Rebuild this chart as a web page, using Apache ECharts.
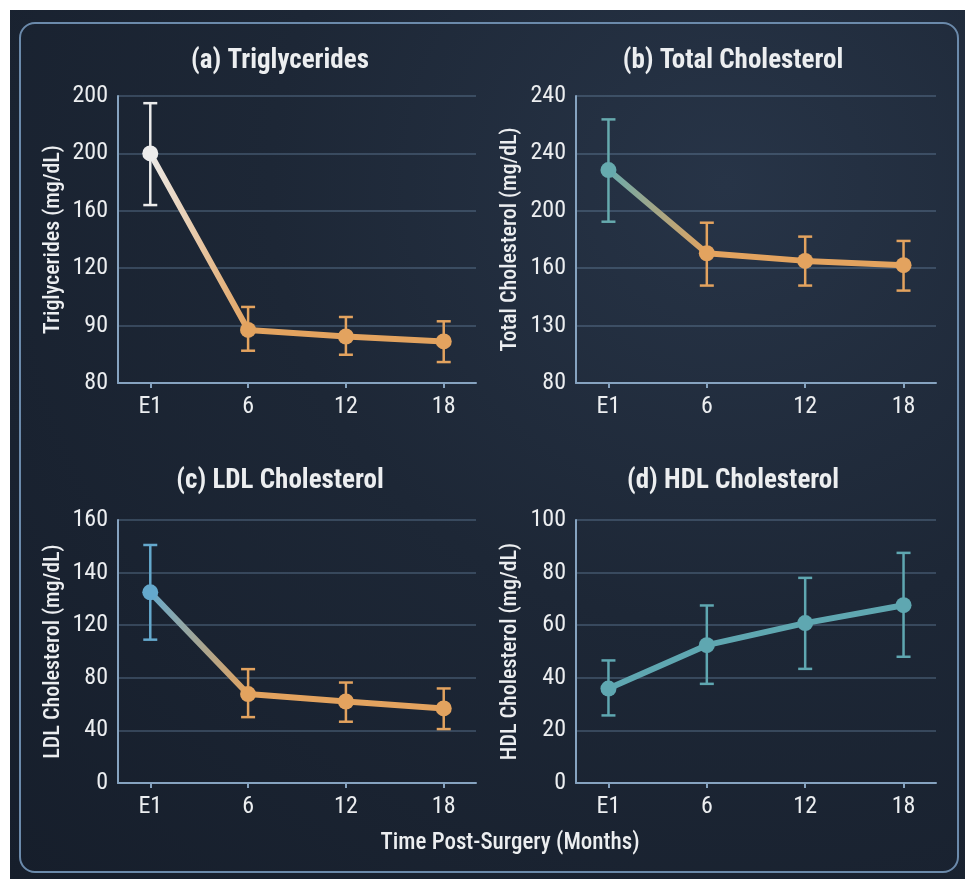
<!DOCTYPE html>
<html>
<head>
<meta charset="utf-8">
<script src="https://cdn.jsdelivr.net/npm/echarts@6/dist/echarts.min.js"></script>
<style>
html,body{margin:0;padding:0;background:#ffffff;}
#bg{position:absolute;left:10px;top:10px;width:955px;height:869px;
 background:radial-gradient(ellipse at 75% 20%, #273447 0%, #1d2736 45%, #161e2b 100%);}
#frame{position:absolute;left:19px;top:22px;width:940px;height:851px;border:2px solid #6b8aab;border-radius:16px;box-sizing:border-box;}
#chart{position:absolute;left:0;top:0;width:965px;height:879px;}
</style>
</head>
<body>
<div id="bg"></div>
<div id="frame"></div>
<div id="chart"></div>
<script>
// ---- data ----
const categories = ['E1', '6', '12', '18'];
const xIndex = [0, 1, 2, 3];

// (a) Triglycerides
const trigMean = [200, 77, 72.4, 69];
const trigLow  = [164, 62.5, 59.7, 54.6];
const trigHigh = [235, 93, 86, 83];
const trigTicks = ['80', '90', '120', '160', '200', '200'];

// (b) Total Cholesterol
const tcMean = [228.4, 170.4, 165.1, 162.1];
const tcLow  = [192.4, 147.9, 147.9, 144.4];
const tcHigh = [263.7, 191.7, 182, 179];
const tcTicks = ['80', '130', '160', '200', '240', '240'];

// (c) LDL Cholesterol
const ldlMean = [145, 67.6, 62, 56.7];
const ldlLow  = [109, 50.1, 46.6, 41];
const ldlHigh = [181, 86.6, 76.4, 71.9];
const ldlTicks = ['0', '40', '80', '120', '140', '160'];

// (d) HDL Cholesterol
const hdlMean = [35.9, 52.4, 60.8, 67.6];
const hdlLow  = [25.7, 37.7, 43.4, 48];
const hdlHigh = [46.6, 67.5, 78, 87.5];
const hdlTicks = ['0', '20', '40', '60', '80', '100'];

const titles = ['(a) Triglycerides', '(b) Total Cholesterol', '(c) LDL Cholesterol', '(d) HDL Cholesterol'];
const yNames = ['Triglycerides (mg/dL)', 'Total Cholesterol (mg/dL)', 'LDL Cholesterol (mg/dL)', 'HDL Cholesterol (mg/dL)'];
const xName = 'Time Post-Surgery (Months)';

// ---- style ----
const FONT = "'Roboto Condensed', 'Roboto', sans-serif";
const TXT = '#eceef0';
const ORANGE = '#e3a35f';
const AXIS = '#86a3c0';
const panels = [
  {mean: trigMean, low: trigLow, high: trigHigh, ticks: trigTicks, min: 40, max: 240, step: 40,
   grid: {left: 118, top: 96, width: 358, height: 287}, start: '#ececec', rest: ORANGE, titleX: 280, titleY: 61, nameGap: 54},
  {mean: tcMean, low: tcLow, high: tcHigh, ticks: tcTicks, min: 80, max: 280, step: 40,
   grid: {left: 576, top: 96, width: 360, height: 287}, start: '#66aaae', rest: ORANGE, titleX: 733, titleY: 61, nameGap: 55},
  {mean: ldlMean, low: ldlLow, high: ldlHigh, ticks: ldlTicks, min: 0, max: 200, step: 40,
   grid: {left: 118, top: 520, width: 358, height: 263}, start: '#65a9cd', rest: ORANGE, titleX: 280, titleY: 481, nameGap: 54},
  {mean: hdlMean, low: hdlLow, high: hdlHigh, ticks: hdlTicks, min: 0, max: 100, step: 20,
   grid: {left: 576, top: 520, width: 360, height: 263}, start: '#5fa7b1', rest: '#5fa7b1', titleX: 733, titleY: 481, nameGap: 55}
];

const grids = [], xAxes = [], yAxes = [], series = [], graphics = [];

panels.forEach((p, k) => {
  grids.push(Object.assign({containLabel: false}, p.grid));
  xAxes.push({
    type: 'value', gridIndex: k, min: -0.33, max: 3.33,
    splitLine: {show: false},
    axisLine: {show: true, onZero: false, lineStyle: {color: AXIS, width: 2}},
    axisTick: {show: true, customValues: xIndex, length: 5, lineStyle: {color: AXIS, width: 2}},
    axisLabel: {show: true, customValues: xIndex, formatter: v => categories[Math.round(v)],
      color: TXT, fontFamily: FONT, fontSize: 24, margin: 12}
  });
  yAxes.push({
    type: 'value', gridIndex: k, min: p.min, max: p.max, interval: p.step,
    name: yNames[k], nameLocation: 'middle', nameGap: p.nameGap, nameRotate: 90,
    nameTextStyle: {color: TXT, fontFamily: FONT, fontSize: 22, fontWeight: 500},
    axisLine: {show: true, onZero: false, lineStyle: {color: AXIS, width: 2}},
    axisTick: {show: false},
    axisLabel: {color: TXT, fontFamily: FONT, fontSize: 24, margin: 10,
      formatter: v => p.ticks[Math.round((v - p.min) / p.step)]},
    splitLine: {show: true, lineStyle: {color: 'rgba(120,150,180,0.42)', width: 1.5}}
  });
  graphics.push({type: 'text', x: p.titleX, y: p.titleY,
    style: {text: titles[k], fill: TXT, font: "bold 27px 'Roboto Condensed', 'Roboto', sans-serif",
      align: 'center', verticalAlign: 'middle', textAlign: 'center', textVerticalAlign: 'middle'}});

  const colors = xIndex.map(i => i === 0 ? p.start : p.rest);
  // error bars
  series.push({
    type: 'custom', xAxisIndex: k, yAxisIndex: k, z: 3,
    data: xIndex.map(i => [i, p.low[i], p.high[i]]),
    renderItem: (params, api) => {
      const i = api.value(0);
      const lo = api.coord([i, api.value(1)]);
      const hi = api.coord([i, api.value(2)]);
      const c = colors[params.dataIndex];
      const w = 7;
      const st = {stroke: c, lineWidth: 2.5};
      return {type: 'group', children: [
        {type: 'line', shape: {x1: hi[0], y1: hi[1], x2: lo[0], y2: lo[1]}, style: st},
        {type: 'line', shape: {x1: hi[0] - w, y1: hi[1], x2: hi[0] + w, y2: hi[1]}, style: st},
        {type: 'line', shape: {x1: lo[0] - w, y1: lo[1], x2: lo[0] + w, y2: lo[1]}, style: st}
      ]};
    }
  });
  // mean line
  series.push({
    type: 'line', xAxisIndex: k, yAxisIndex: k, z: 4,
    data: xIndex.map(i => ({value: [i, p.mean[i]], itemStyle: {color: colors[i]}})),
    symbol: 'circle', symbolSize: 16,
    lineStyle: {width: 6, color: new echarts.graphic.LinearGradient(0, 0, 1, 0, [
      {offset: 0, color: p.start}, {offset: 0.34, color: p.rest}, {offset: 1, color: p.rest}])},
    itemStyle: {borderWidth: 0},
    emphasis: {disabled: true},
    animation: false
  });
});

graphics.push({type: 'text', x: 510, y: 843,
  style: {text: xName, fill: TXT, font: "500 23px 'Roboto Condensed', 'Roboto', sans-serif",
    align: 'center', verticalAlign: 'middle', textAlign: 'center', textVerticalAlign: 'middle'}});

const chart = echarts.init(document.getElementById('chart'), null, {renderer: 'canvas'});
chart.setOption({
  backgroundColor: 'transparent',
  animation: false,
  grid: grids, xAxis: xAxes, yAxis: yAxes, series: series, graphic: graphics
});
</script>
</body>
</html>
